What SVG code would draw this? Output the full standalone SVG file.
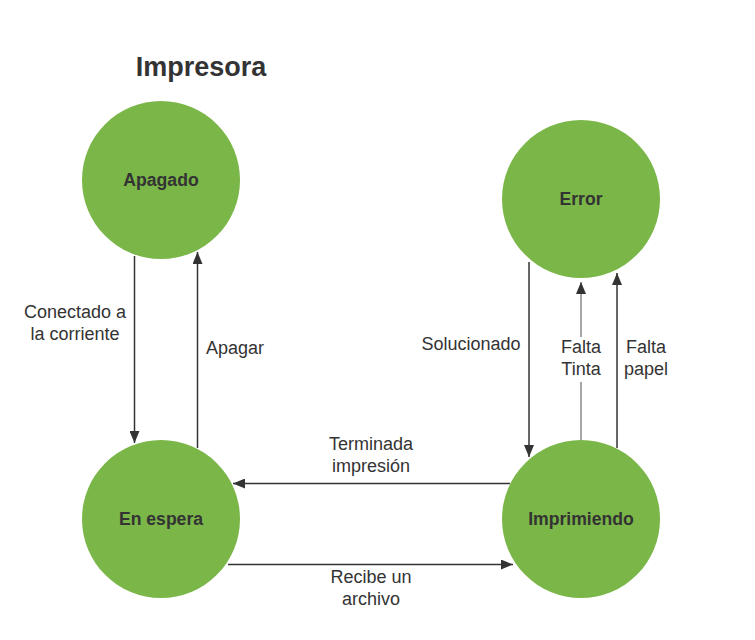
<svg xmlns="http://www.w3.org/2000/svg" width="755" height="640" viewBox="0 0 755 640">
<style>
.node{fill:#7ab648;}
.nl{font-family:"Liberation Sans",Arial,sans-serif;font-size:17.6px;font-weight:bold;fill:#333333;text-anchor:middle;}
.el{font-family:"Liberation Sans",Arial,sans-serif;font-size:18px;fill:#333333;text-anchor:middle;}
.c{stroke:#333333;stroke-width:1.5;fill:none;marker-end:url(#ah);}
.g{stroke:#888888;}
</style>
<defs>
<marker id="ah" viewBox="0 0 12 10" refX="12" refY="5" markerWidth="12" markerHeight="10" markerUnits="userSpaceOnUse" orient="auto">
<path d="M0,0 L12,5 L0,10 Z" fill="#333333"/>
</marker>
</defs>
<rect width="755" height="640" fill="#ffffff"/>
<text x="201" y="76" font-family="Liberation Sans,Arial,sans-serif" font-size="27" font-weight="bold" fill="#333333" text-anchor="middle">Impresora</text>
<g id="apagado"><circle class="node" cx="161" cy="180" r="79"/><text class="nl" x="161" y="186">Apagado</text></g>
<g id="error"><circle class="node" cx="581" cy="199" r="79"/><text class="nl" x="581" y="205">Error</text></g>
<g id="espera"><circle class="node" cx="161" cy="519" r="79"/><text class="nl" x="161" y="525">En espera</text></g>
<g id="imprimiendo"><circle class="node" cx="581" cy="519" r="79"/><text class="nl" x="581" y="525">Imprimiendo</text></g>
<g id="connectors">
<path class="c" d="M134.5,256 V443"/>
<path class="c" d="M197.5,448 V252"/>
<path class="c" d="M529,262 V457"/>
<path class="c g" d="M581,440 V282"/>
<path class="c" d="M617,448 V273"/>
<path class="c" d="M510,483.5 H233"/>
<path class="c" d="M228,564.5 H513"/>
<rect x="556" y="337" width="50" height="45" fill="#ffffff"/>
<text class="el" x="75" y="318">Conectado a</text>
<text class="el" x="75" y="340">la corriente</text>
<text class="el" x="235" y="354">Apagar</text>
<text class="el" x="471" y="350">Solucionado</text>
<text class="el" x="581" y="353">Falta</text>
<text class="el" x="581" y="375">Tinta</text>
<text class="el" x="646" y="353">Falta</text>
<text class="el" x="646" y="375">papel</text>
<text class="el" x="371" y="450">Terminada</text>
<text class="el" x="371" y="472">impresión</text>
<text class="el" x="371" y="583">Recibe un</text>
<text class="el" x="371" y="605">archivo</text>
</g>
</svg>
